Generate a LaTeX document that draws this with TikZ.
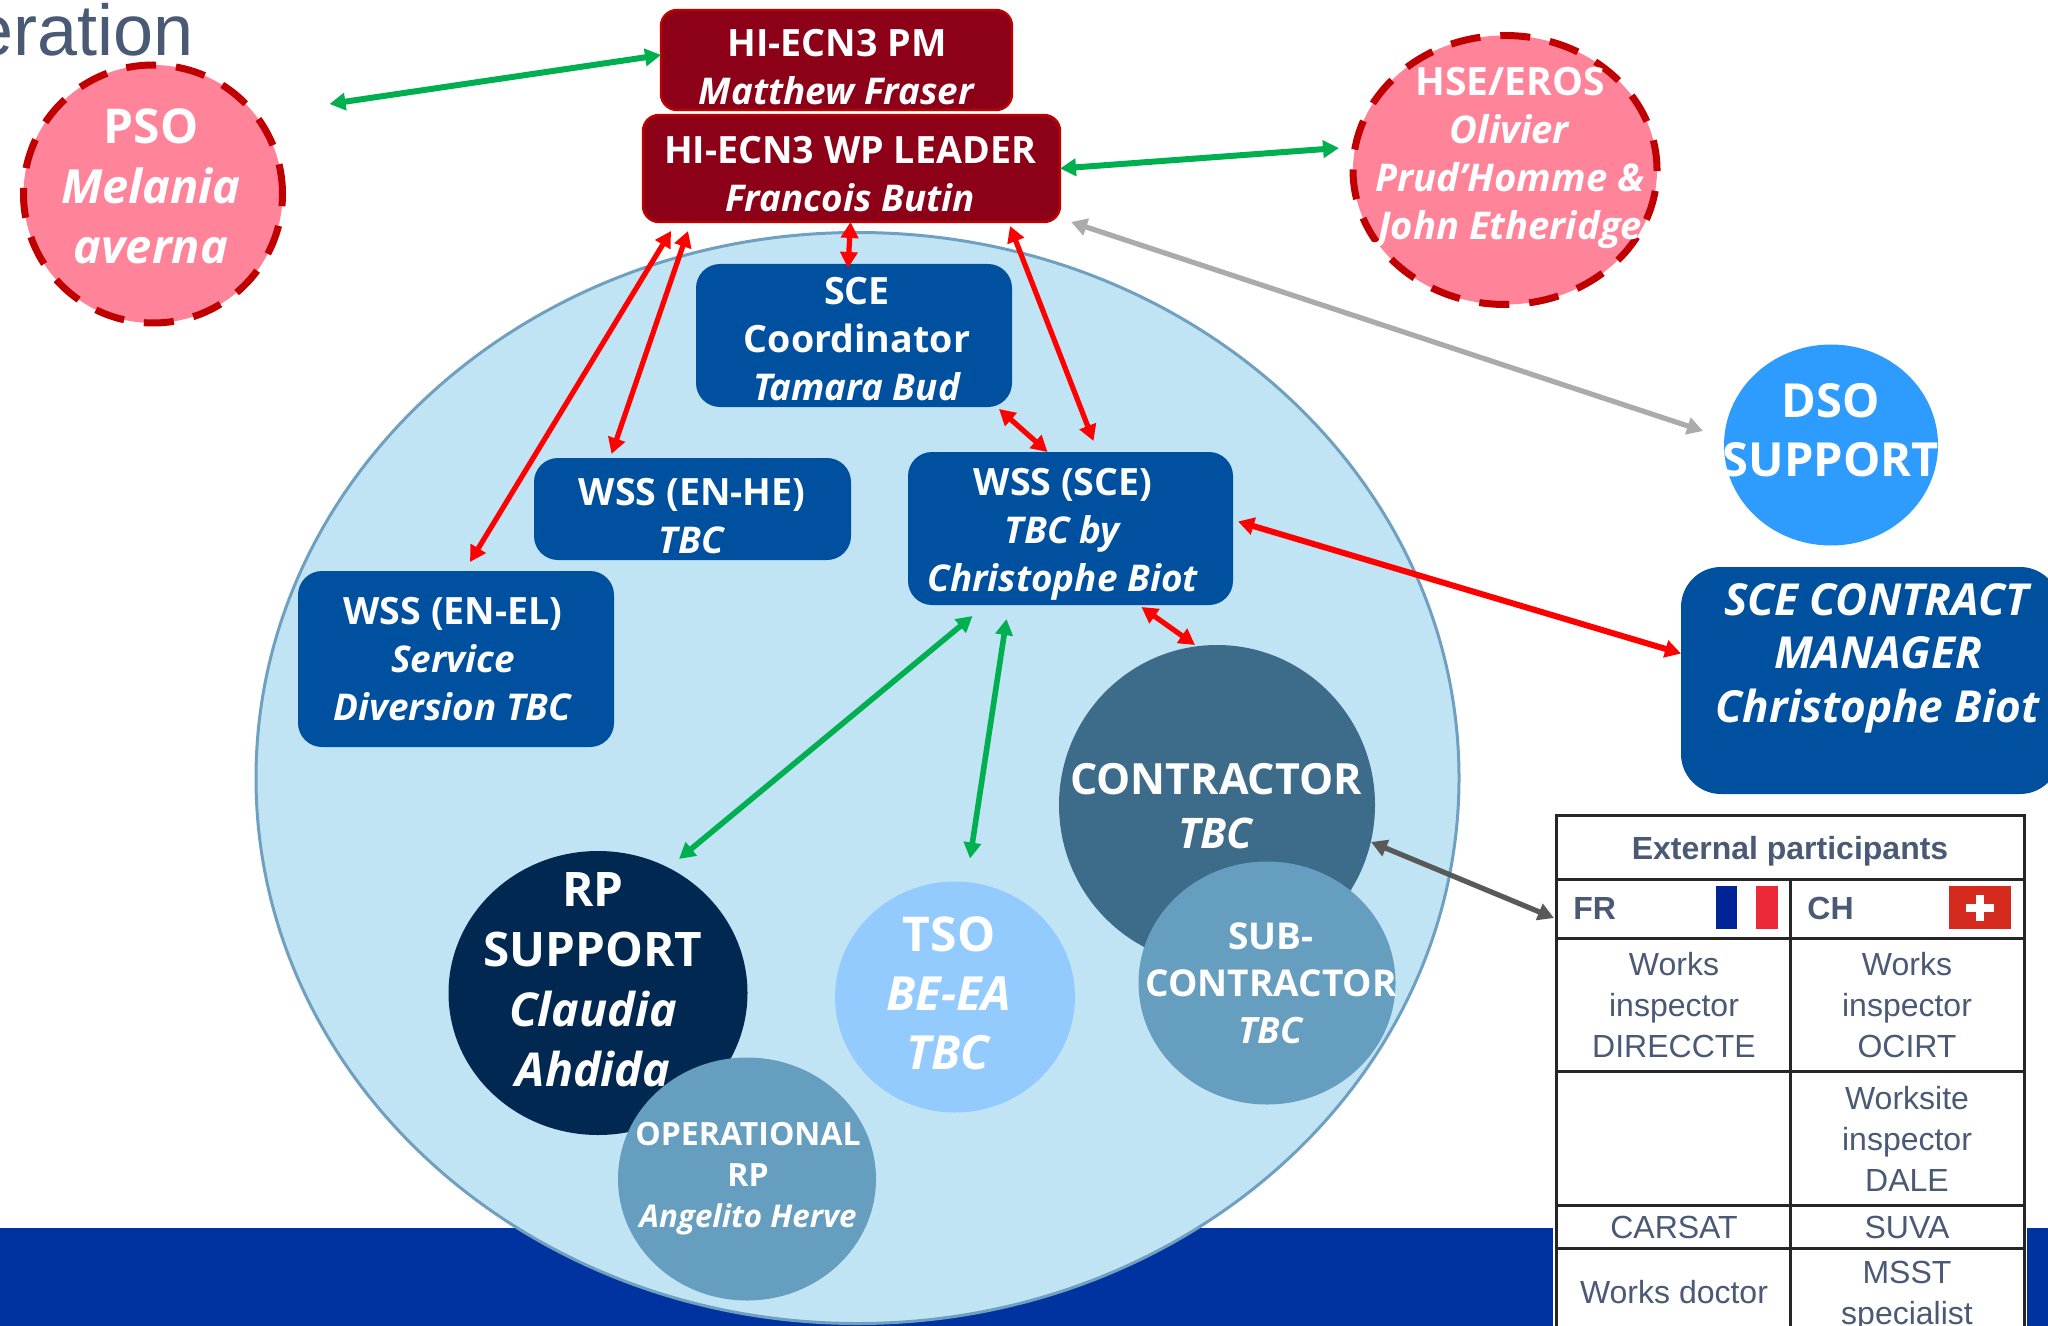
\documentclass[tikz,border=0pt]{standalone}
\usepackage{fontspec}
\setmainfont{Open Sans}[BoldItalicFeatures={Scale=0.98}]
\newfontfamily\tabfont{Liberation Sans}
\usetikzlibrary{arrows.meta,shapes.geometric}
\definecolor{bandblue}{HTML}{0033A0}
\definecolor{bigfill}{HTML}{C1E4F5}
\definecolor{bigline}{HTML}{6FA0C0}
\definecolor{darkred}{HTML}{8C0018}
\definecolor{redline}{HTML}{C00000}
\definecolor{boxblue}{HTML}{0050A0}
\definecolor{pinkfill}{HTML}{FF8399}
\definecolor{dsoblue}{HTML}{2E9BFF}
\definecolor{contractblue}{HTML}{3D6B8A}
\definecolor{subblue}{HTML}{669EBF}
\definecolor{rpnavy}{HTML}{002850}
\definecolor{tsoblue}{HTML}{94CBFF}
\definecolor{slate}{HTML}{4A5A75}
\definecolor{arrgreen}{HTML}{00B050}
\definecolor{arrred}{HTML}{FF0000}
\definecolor{arrgray}{HTML}{ABABAB}
\definecolor{arrdark}{HTML}{595959}
\definecolor{frblue}{HTML}{002395}
\definecolor{frred}{HTML}{ED2939}
\definecolor{chred}{HTML}{D52B1E}
\tikzset{
  x=0.5pt,y=-0.5pt,
  redbox/.style={rectangle,rounded corners=8pt,fill=darkred,draw=redline,line width=1.2pt,inner sep=0,outer sep=0},
  bluebox/.style={rectangle,rounded corners=12pt,fill=boxblue,inner sep=0,outer sep=0},
  disc/.style={ellipse,inner sep=0,outer sep=0},
  dashdisc/.style={disc,fill=pinkfill,draw=redline,line width=3.5pt,dash pattern=on 15pt off 10pt},
  lab/.style 2 args={font=\fontsize{#1}{#2}\selectfont\bfseries,text=white,align=center,inner sep=0},
  cell/.style={font=\tabfont\fontsize{16}{20.5}\selectfont,text=slate,align=center,inner sep=0},
  headcell/.style={font=\tabfont\fontsize{16}{20.5}\selectfont\bfseries,text=slate,inner sep=0},
  link/.style={line width=#1,{Triangle[length=8pt,width=8.5pt]}-{Triangle[length=8pt,width=8.5pt]}},
  rule/.style={line width=1.5pt,draw=black!85},
}
\begin{document}
\begin{tikzpicture}
\useasboundingbox (0,0) rectangle (2048,1326);
\clip (0,0) rectangle (2048,1326);
\fill[white] (0,0) rectangle (2048,1326);
% title fragment
\node[anchor=base east,font=\tabfont\fontsize{36}{40}\selectfont,text=slate,inner sep=0] (title) at (194,56) {eration};
% band
\fill[bandblue] (0,1228) rectangle (2048,1326);
% big ellipse
\node[disc,fill=bigfill,draw=bigline,line width=1.5pt,minimum width=601.5pt,minimum height=545.5pt] (big) at (857.5,778) {};
% shapes
\node[dashdisc,minimum width=129.5pt,minimum height=129pt] (pso) at (153,194) {};
\node[dashdisc,minimum width=152pt,minimum height=134.5pt] (hse) at (1505,170) {};
\node[disc,fill=dsoblue,minimum width=107pt,minimum height=100.5pt] (dso) at (1831,445) {};
\node[redbox,minimum width=175.5pt,minimum height=50pt] (pm) at (836.5,60) {};
\node[redbox,minimum width=208.5pt,minimum height=53.5pt] (leader) at (851.5,168.5) {};
\node[bluebox,minimum width=158pt,minimum height=71.5pt] (sce) at (854,335.5) {};
\node[bluebox,minimum width=158.5pt,minimum height=51pt] (he) at (692.5,509) {};
\node[bluebox,minimum width=162.5pt,minimum height=76.5pt] (wss) at (1070.5,528.5) {};
\node[bluebox,minimum width=158pt,minimum height=88pt] (el) at (456,659) {};
\node[bluebox,rounded corners=20pt,minimum width=189.5pt,minimum height=113.5pt] (contract) at (1870.5,680.5) {};
\node[disc,fill=contractblue,minimum width=158pt,minimum height=160pt] (contractor) at (1217,805) {};
\node[disc,fill=subblue,minimum width=128.5pt,minimum height=121.5pt] (sub) at (1267,983) {};
\node[disc,fill=rpnavy,minimum width=149.5pt,minimum height=142pt] (rp) at (598,993) {};
\node[disc,fill=subblue,minimum width=129pt,minimum height=121.5pt] (oprp) at (747,1179) {};
\node[disc,fill=tsoblue,minimum width=120pt,minimum height=115.5pt] (tso) at (955,997) {};
% labels
\node[lab={18.8}{24}] (pmt) at (837,67) {HI-ECN3 PM\\\textit{Matthew Fraser}};
\node[lab={18.8}{24}] (leadert) at (850,174) {HI-ECN3 WP LEADER\\\textit{Francois Butin}};
\node[lab={18.8}{24}] (scet) at (857,339) {SCE\\Coordinator\\\textit{Tamara Bud}};
\node[lab={18.8}{24}] (het) at (692,516) {WSS (EN-HE)\\\textit{TBC}};
\node[lab={18.8}{24}] (elt) at (453,659) {WSS (EN-EL)\\\textit{Service}\\\textit{Diversion TBC}};
\node[lab={18.8}{24}] (wsst) at (1063,534) {WSS (SCE)\\\textit{TBC by}\\\textit{Christophe\ Biot}};
\node[lab={22.5}{26.8}] (contractt) at (1878,658) {\textit{SCE CONTRACT}\\\textit{MANAGER}\\\textit{Christophe Biot}};
\node[lab={24}{30}] (psot) at (151,186) {PSO\\\textit{Melania}\\\textit{averna}};
\node[lab={19.5}{24}] (hset) at (1510,158) {HSE/EROS\\\textit{Olivier}\\\textit{Prud’Homme \&}\\\textit{John Etheridge}};
\node[lab={23.5}{29.5}] (dsot) at (1831,430) {DSO\\SUPPORT};
\node[lab={21.5}{26.8}] (contractort) at (1216,806) {CONTRACTOR\\\textit{TBC}};
\node[lab={18.5}{23.5}] (subt) at (1271,983) {SUB-\\CONTRACTOR\\\textit{TBC}};
\node[lab={23.8}{30}] (rpt) at (593,980) {RP\\SUPPORT\\\textit{Claudia}\\\textit{Ahdida}};
\node[lab={16}{20.5}] (oprpt) at (748,1179) {OPERATIONAL\\RP\\\textit{Angelito Herve}};
\node[lab={24}{29.5}] (tsot) at (949,993) {TSO\\\textit{BE-EA}\\\textit{TBC}};
% table
\fill[white] (1553,812) rectangle (2027,1326);
\node[rectangle,draw=black!85,line width=1.5pt,inner sep=0,outer sep=0,minimum width=234pt,minimum height=262.5pt] (ext) at (1790,1077.5) {};
\draw[rule] (1556,879) -- (2024,879);
\draw[rule] (1556,938) -- (2024,938);
\draw[rule] (1556,1071) -- (2024,1071);
\draw[rule] (1556,1205) -- (2024,1205);
\draw[rule] (1556,1248) -- (2024,1248);
\draw[rule] (1790,879) -- (1790,1340);
\node[headcell] (head) at (1790,851) {External participants};
\node[headcell,anchor=west] (fr) at (1573,908) {FR};
\node[headcell,anchor=west] (ch) at (1807,908) {CH};
\fill[frblue] (1716,886) rectangle (1737,929);
\fill[frred] (1756,886) rectangle (1778,929);
\fill[chred] (1949,886) rectangle (2011,929);
\fill[white] (1966,904) rectangle (1994,912);
\fill[white] (1976,895) rectangle (1984,921);
\node[cell] (c1) at (1674,1005) {Works\\inspector\\DIRECCTE};
\node[cell] (c2) at (1907,1005) {Works\\inspector\\OCIRT};
\node[cell] (c3) at (1907,1139) {Worksite\\inspector\\DALE};
\node[cell] (c4) at (1674,1227) {CARSAT};
\node[cell] (c5) at (1907,1227) {SUVA};
\node[cell] (c6) at (1674,1292) {Works doctor};
\node[cell] (c7) at (1907,1296) {MSST\\specialist};
% connectors
\draw[link=3pt,draw=arrgreen] ([shift={(47,-90)}]pso.east) -- ([shift={(0,-5)}]pm.west);
\draw[link=3pt,draw=arrgreen] (leader.east) -- ([shift={(-14,-22)}]hse.west);
\draw[link=2.6pt,draw=arrgray] ([shift={(11,0)}]leader.south east) -- ([shift={(-21,-14)}]dso.west);
\draw[link=2.6pt,draw=arrred] ([shift={(28,9)}]leader.south west) -- ([shift={(14,-9)}]el.north);
\draw[link=2.6pt,draw=arrred] ([shift={(45,9)}]leader.south west) -- ([shift={(-81,-4)}]he.north);
\draw[link=2.6pt,draw=arrred] ([shift={(-1,0)}]leader.south) -- ([shift={(-6,4)}]sce.north);
\draw[link=2.6pt,draw=arrred] ([shift={(-50,4)}]leader.south east) -- ([shift={(23,-11)}]wss.north);
\draw[link=2.6pt,draw=arrred] ([shift={(-13,2)}]sce.south east) -- ([shift={(-23,0)}]wss.north);
\draw[link=3pt,draw=arrred] ([shift={(5,-7)}]wss.east) -- ([shift={(0,-27)}]contract.west);
\draw[link=2.6pt,draw=arrred] ([shift={(71,2)}]wss.south) -- ([shift={(-22,0)}]contractor.north);
\draw[link=2.8pt,draw=arrgreen] ([shift={(-98,11)}]wss.south) -- ([shift={(81,8)}]rp.north);
\draw[link=2.8pt,draw=arrgreen] ([shift={(-64,14)}]wss.south) -- ([shift={(15,-23)}]tso.north);
\draw[link=2.6pt,draw=arrdark] ([shift={(-4,37)}]contractor.east) -- ([shift={(-2,103)}]ext.north west);
\end{tikzpicture}
\end{document}
